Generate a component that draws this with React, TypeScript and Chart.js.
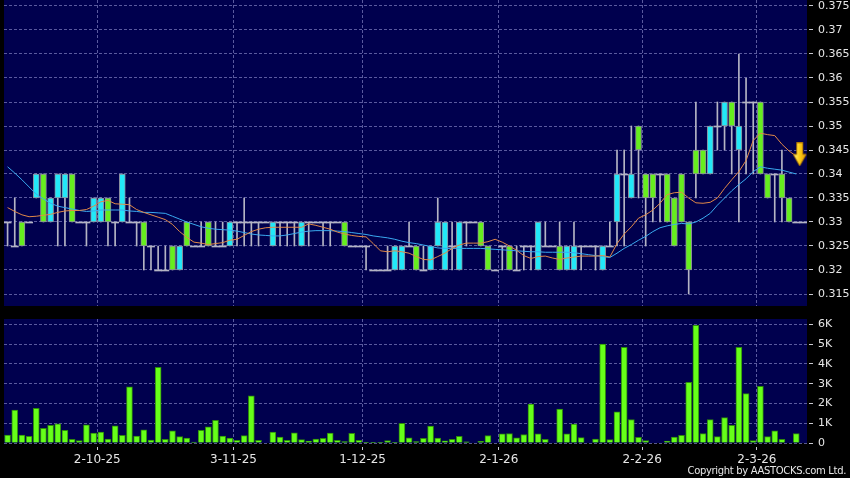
import { useEffect, useRef } from 'react';
import { Chart, registerables } from 'chart.js';

Chart.register(...registerables);

// ---------------- data ----------------
const tickDates = ['2-10-25', '3-11-25', '1-12-25', '2-1-26', '2-2-26', '2-3-26'];
const tickBars = [13, 32, 50, 69, 89, 105];

const opens = [
  0.33, 0.325, 0.33, 0.33, 0.335, 0.34, 0.33, 0.335, 0.335, 0.34,
  0.33, 0.33, 0.33, 0.33, 0.335, 0.33, 0.33, 0.33, 0.33, 0.33,
  0.325, 0.32, 0.32, 0.325, 0.32, 0.33, 0.325, 0.325, 0.33, 0.325,
  0.325, 0.325, 0.33, 0.33, 0.33, 0.33, 0.33, 0.325, 0.33, 0.33,
  0.33, 0.325, 0.33, 0.33, 0.33, 0.33, 0.33, 0.33, 0.325, 0.325,
  0.325, 0.32, 0.32, 0.32, 0.32, 0.32, 0.325, 0.325, 0.32, 0.32,
  0.325, 0.32, 0.325, 0.32, 0.33, 0.33, 0.33, 0.325, 0.32, 0.325,
  0.325, 0.32, 0.325, 0.325, 0.32, 0.325, 0.325, 0.325, 0.32, 0.32,
  0.325, 0.325, 0.325, 0.32, 0.325, 0.33, 0.34, 0.335, 0.35, 0.34,
  0.34, 0.34, 0.34, 0.335, 0.34, 0.33, 0.345, 0.345, 0.34, 0.35,
  0.35, 0.355, 0.345, 0.355, 0.355, 0.355, 0.34, 0.34, 0.34, 0.335,
  0.33, 0.33,
];
const highs = [
  0.33, 0.335, 0.33, 0.33, 0.34, 0.34, 0.335, 0.34, 0.34, 0.34,
  0.33, 0.33, 0.335, 0.335, 0.335, 0.33, 0.34, 0.335, 0.33, 0.33,
  0.325, 0.325, 0.325, 0.325, 0.325, 0.33, 0.325, 0.33, 0.33, 0.33,
  0.33, 0.33, 0.33, 0.335, 0.33, 0.33, 0.33, 0.33, 0.33, 0.33,
  0.33, 0.33, 0.33, 0.33, 0.33, 0.33, 0.33, 0.33, 0.325, 0.325,
  0.325, 0.32, 0.32, 0.325, 0.325, 0.325, 0.33, 0.325, 0.325, 0.325,
  0.335, 0.33, 0.33, 0.33, 0.33, 0.33, 0.33, 0.325, 0.32, 0.325,
  0.325, 0.325, 0.325, 0.325, 0.33, 0.33, 0.325, 0.33, 0.325, 0.33,
  0.325, 0.325, 0.325, 0.325, 0.33, 0.345, 0.345, 0.35, 0.35, 0.34,
  0.34, 0.34, 0.34, 0.335, 0.34, 0.33, 0.355, 0.345, 0.35, 0.355,
  0.355, 0.355, 0.365, 0.36, 0.355, 0.355, 0.34, 0.34, 0.345, 0.335,
  0.33, 0.33,
];
const lows = [
  0.325, 0.325, 0.325, 0.33, 0.335, 0.33, 0.33, 0.325, 0.325, 0.33,
  0.33, 0.325, 0.33, 0.33, 0.325, 0.325, 0.33, 0.33, 0.325, 0.32,
  0.32, 0.32, 0.32, 0.32, 0.32, 0.325, 0.325, 0.325, 0.325, 0.325,
  0.325, 0.325, 0.325, 0.325, 0.325, 0.325, 0.33, 0.325, 0.325, 0.325,
  0.325, 0.325, 0.325, 0.33, 0.325, 0.325, 0.33, 0.325, 0.325, 0.325,
  0.32, 0.32, 0.32, 0.32, 0.32, 0.32, 0.325, 0.32, 0.32, 0.32,
  0.325, 0.32, 0.32, 0.32, 0.325, 0.33, 0.325, 0.32, 0.32, 0.32,
  0.32, 0.32, 0.32, 0.32, 0.32, 0.325, 0.325, 0.32, 0.32, 0.32,
  0.32, 0.325, 0.32, 0.32, 0.325, 0.325, 0.325, 0.335, 0.335, 0.325,
  0.33, 0.33, 0.33, 0.325, 0.33, 0.315, 0.335, 0.34, 0.34, 0.345,
  0.345, 0.34, 0.33, 0.34, 0.34, 0.34, 0.335, 0.33, 0.33, 0.33,
  0.33, 0.33,
];
const closes = [
  0.33, 0.325, 0.325, 0.33, 0.34, 0.33, 0.335, 0.34, 0.34, 0.33,
  0.33, 0.33, 0.335, 0.335, 0.33, 0.33, 0.34, 0.33, 0.33, 0.325,
  0.325, 0.32, 0.32, 0.32, 0.325, 0.325, 0.325, 0.325, 0.325, 0.325,
  0.325, 0.33, 0.33, 0.33, 0.33, 0.33, 0.33, 0.33, 0.33, 0.33,
  0.33, 0.33, 0.33, 0.33, 0.33, 0.33, 0.33, 0.325, 0.325, 0.325,
  0.325, 0.32, 0.32, 0.32, 0.325, 0.325, 0.325, 0.32, 0.32, 0.325,
  0.33, 0.33, 0.325, 0.33, 0.33, 0.33, 0.325, 0.32, 0.32, 0.325,
  0.32, 0.32, 0.325, 0.325, 0.33, 0.325, 0.325, 0.32, 0.325, 0.325,
  0.325, 0.325, 0.325, 0.325, 0.325, 0.34, 0.34, 0.34, 0.345, 0.335,
  0.335, 0.34, 0.33, 0.325, 0.33, 0.32, 0.34, 0.34, 0.35, 0.35,
  0.355, 0.35, 0.35, 0.355, 0.355, 0.34, 0.335, 0.34, 0.335, 0.33,
  0.33, 0.33,
];
// volume in thousands
const volumeK = [
  0.40, 1.66, 0.40, 0.34, 1.75, 0.74, 0.89, 0.97, 0.64, 0.18,
  0.12, 0.92, 0.50, 0.55, 0.20, 0.87, 0.39, 2.84, 0.35, 0.66,
  0.15, 3.83, 0.18, 0.61, 0.32, 0.25, 0.05, 0.64, 0.82, 1.14,
  0.35, 0.25, 0.13, 0.37, 2.39, 0.13, 0, 0.55, 0.30, 0.13,
  0.52, 0.17, 0.10, 0.20, 0.24, 0.50, 0.13, 0.07, 0.49, 0.13,
  0.02, 0.02, 0.02, 0.12, 0.03, 1.00, 0.26, 0.07, 0.24, 0.85,
  0.25, 0.11, 0.18, 0.34, 0.06, 0, 0.08, 0.38, 0, 0.46,
  0.48, 0.26, 0.43, 1.97, 0.46, 0.19, 0, 1.72, 0.46, 0.96,
  0.27, 0, 0.20, 5.00, 0.17, 1.58, 4.84, 1.19, 0.29, 0.12,
  0, 0, 0.10, 0.30, 0.39, 3.07, 5.95, 0.47, 1.18, 0.32,
  1.28, 0.89, 4.84, 2.50, 0.12, 2.87, 0.32, 0.62, 0.18, 0,
  0.47, 0,
];
// short moving average (orange)
const maShort = [
  0.3330, 0.3322, 0.3315, 0.3311, 0.3312, 0.3314, 0.3316, 0.3320, 0.3323, 0.3324,
  0.3324, 0.3326, 0.3333, 0.3342, 0.3345, 0.3338, 0.3337, 0.3336, 0.3326, 0.3320,
  0.3315, 0.3310, 0.3305, 0.3295, 0.3280, 0.3268, 0.3258, 0.3256, 0.3253, 0.3255,
  0.3257, 0.3262, 0.3264, 0.3272, 0.3280, 0.3285, 0.3288, 0.3289, 0.3289, 0.3289,
  0.3289, 0.3289, 0.3296, 0.3293, 0.3289, 0.3285, 0.3279, 0.3275, 0.3272, 0.3270,
  0.3269, 0.3255, 0.3240, 0.3238, 0.3240, 0.3238, 0.3235, 0.3228, 0.3222, 0.3221,
  0.3228, 0.3235, 0.3245, 0.3252, 0.3256, 0.3256, 0.3256, 0.3259, 0.3264, 0.3258,
  0.3250, 0.3241, 0.3230, 0.3224, 0.3228, 0.3229, 0.3225, 0.3222, 0.3225, 0.3227,
  0.3229, 0.3229, 0.3229, 0.3230, 0.3227, 0.3255, 0.3275, 0.3290, 0.3308, 0.3315,
  0.3325, 0.3339, 0.3357, 0.3361, 0.3362, 0.3350, 0.3340, 0.3339, 0.3341, 0.3350,
  0.3370, 0.3388, 0.3405, 0.3428, 0.3470, 0.3485, 0.3482, 0.3480, 0.3462, 0.3448,
  0.3437, null,
];
// long moving average (blue)
const maLong = [
  0.3415, 0.3402, 0.3388, 0.3373, 0.3358, 0.3348, 0.3339, 0.3333, 0.3330, 0.3327,
  0.3324, 0.3322, 0.3323, 0.3325, 0.3325, 0.3325, 0.3325, 0.3323, 0.3322, 0.3320,
  0.3320, 0.3319, 0.3318, 0.3312, 0.3306, 0.3300, 0.3295, 0.3290, 0.3287, 0.3285,
  0.3284, 0.3283, 0.3281, 0.3278, 0.3275, 0.3273, 0.3272, 0.3271, 0.3271, 0.3273,
  0.3276, 0.3279, 0.3281, 0.3282, 0.3282, 0.3282, 0.3281, 0.3280, 0.3278, 0.3276,
  0.3274, 0.3271, 0.3269, 0.3267, 0.3264, 0.3260, 0.3257, 0.3255, 0.3252, 0.3249,
  0.3246, 0.3245, 0.3245, 0.3245, 0.3245, 0.3245, 0.3245, 0.3244, 0.3243, 0.3242,
  0.3241, 0.3240, 0.3239, 0.3238, 0.3238, 0.3237, 0.3237, 0.3237, 0.3237, 0.3236,
  0.3234, 0.3232, 0.3230, 0.3228, 0.3226, 0.3235, 0.3245, 0.3253, 0.3262, 0.3270,
  0.3280, 0.3288, 0.3292, 0.3295, 0.3297, 0.3296, 0.3300, 0.3308, 0.3318, 0.3335,
  0.3350, 0.3365, 0.3378, 0.3390, 0.3405, 0.3415, 0.3412, 0.3410, 0.3408, 0.3404,
  0.3400, null,
];
const signalBar = 110;
const signalPrice = 0.3441;

const priceMin = 0.3125;
const priceMax = 0.37625;
const priceStep = 0.005;
const volMax = 6.27;
const volStep = 1;

// ---------------- styles ----------------
const NAVY = '#00004e';
const GRID = 'rgba(120,120,185,0.75)';
const TICK_MARK = '#c8c8d0';
const LABEL = '#e6e6e6';
const GREEN = '#66ee1e';
const CYAN = '#22e8f8';
const CANDLE_EDGE = '#8c8c9c';
const WICK = '#b4b4c4';
const ORANGE = '#e08848';
const BLUE = '#3aaaf0';
const VOL_FILL = '#66ff19';
const VOL_EDGE = '#2e8a0c';
const FONT = 'DejaVu Sans';
const TOP_H = 306;
const BOT_H = 172;
const PLOT_LEFT = 4;
const AXIS_W = 43;
const DOJI_H = (priceMax - priceMin) / TOP_H;

const categories = opens.map((_, i) => {
  const k = tickBars.indexOf(i);
  return k >= 0 ? tickDates[k] : '';
});

const bodies = opens.map((o, i) => (o === closes[i] ? null : [Math.min(o, closes[i]), Math.max(o, closes[i])]));
const bodyColors = opens.map((o, i) => (closes[i] < o ? GREEN : CYAN));
const wicks = highs.map((h, i) => (h > lows[i] ? [lows[i], h] : null));
const dojis = opens.map((o, i) => (o === closes[i] ? [o - DOJI_H, o] : null));
const arrowData = categories.map((_, i) => (i === signalBar ? signalPrice : null));

const gridAtTicks = (ctx: any) => (tickBars.includes(ctx.index) ? GRID : 'rgba(0,0,0,0)');
const tickAtTicks = (ctx: any) => (tickBars.includes(ctx.index) ? TICK_MARK : 'rgba(0,0,0,0)');

const bgPlugin = {
  id: 'navyBg',
  beforeDraw(chart: any) {
    const { ctx, chartArea: a } = chart;
    ctx.save();
    ctx.fillStyle = NAVY;
    ctx.fillRect(a.left, a.top, a.right - a.left, a.bottom - a.top);
    ctx.restore();
  },
};

function makeArrow(): HTMLCanvasElement {
  const c = document.createElement('canvas');
  c.width = 22;
  c.height = 24;
  const g = c.getContext('2d')!;
  const grad = g.createLinearGradient(8, 0, 21, 0);
  grad.addColorStop(0, '#fff488');
  grad.addColorStop(0.45, '#ffd21a');
  grad.addColorStop(1, '#e09600');
  g.beginPath();
  g.moveTo(11.5, 0.5);
  g.lineTo(17.5, 0.5);
  g.lineTo(17.5, 12);
  g.lineTo(21, 12);
  g.lineTo(14.5, 23.5);
  g.lineTo(8, 12);
  g.lineTo(11.5, 12);
  g.closePath();
  g.fillStyle = grad;
  g.fill();
  g.strokeStyle = '#b07800';
  g.lineWidth = 1;
  g.stroke();
  return c;
}

const fitY = (s: any) => {
  s.width = AXIS_W;
  s.paddingTop = 0;
  s.paddingBottom = 0;
};

export default function App() {
  const topRef = useRef<HTMLCanvasElement>(null);
  const botRef = useRef<HTMLCanvasElement>(null);

  useEffect(() => {
    document.body.style.margin = '0';
    document.body.style.background = '#000';
    const arrow = makeArrow();

    const top = new Chart(topRef.current as HTMLCanvasElement, {
      type: 'bar',
      data: {
        labels: categories,
        datasets: [
          { type: 'line', data: arrowData, pointStyle: arrow, pointRadius: 6, showLine: false, order: 0 } as any,
          { type: 'line', data: maShort, borderColor: ORANGE, borderWidth: 1, pointRadius: 0, tension: 0, order: 1 } as any,
          { type: 'line', data: maLong, borderColor: BLUE, borderWidth: 1, pointRadius: 0, tension: 0, order: 1 } as any,
          { data: bodies, backgroundColor: bodyColors, borderColor: CANDLE_EDGE, borderWidth: 1, borderSkipped: false, barThickness: 6, grouped: false, order: 2 } as any,
          { data: dojis, backgroundColor: WICK, borderWidth: 0, categoryPercentage: 1, barPercentage: 1, grouped: false, order: 3 } as any,
          { data: wicks, backgroundColor: WICK, borderWidth: 0, barThickness: 1, grouped: false, order: 4 } as any,
        ],
      },
      options: {
        responsive: false,
        animation: false,
        events: [],
        layout: { autoPadding: false, padding: { left: PLOT_LEFT, right: 0, top: 0, bottom: 0 } },
        plugins: { legend: { display: false }, tooltip: { enabled: false } },
        scales: {
          x: {
            type: 'category',
            offset: true,
            grid: { offset: true, color: gridAtTicks, drawTicks: false, lineWidth: 1 },
            border: { display: false, dash: [3, 2] },
            ticks: { display: false, autoSkip: false },
            afterFit: (s: any) => { s.height = 0; s.paddingLeft = 0; s.paddingRight = 0; },
          },
          y: {
            type: 'linear',
            position: 'right',
            min: priceMin,
            max: priceMax,
            ticks: {
              stepSize: priceStep,
              includeBounds: false,
              color: LABEL,
              padding: 3,
              font: { family: FONT, size: 11 },
              callback: (v: any) => String(parseFloat(Number(v).toFixed(3))),
            },
            grid: { color: GRID, tickColor: TICK_MARK, tickLength: 8, tickBorderDash: [0, 2, 4, 2], lineWidth: 1 },
            border: { display: false, dash: [3, 2] },
            afterFit: fitY,
          },
        },
      } as any,
      plugins: [bgPlugin],
    });

    const bot = new Chart(botRef.current as HTMLCanvasElement, {
      type: 'bar',
      data: {
        labels: categories,
        datasets: [
          { data: volumeK, backgroundColor: VOL_FILL, borderColor: VOL_EDGE, borderWidth: 1, borderSkipped: 'start', barThickness: 6, grouped: false } as any,
        ],
      },
      options: {
        responsive: false,
        animation: false,
        events: [],
        layout: { autoPadding: false, padding: { left: PLOT_LEFT, right: 0, top: 13, bottom: 0 } },
        plugins: { legend: { display: false }, tooltip: { enabled: false } },
        scales: {
          x: {
            type: 'category',
            offset: true,
            grid: { offset: true, color: gridAtTicks, tickColor: tickAtTicks, tickLength: 7, tickBorderDash: [0, 4, 3, 10], lineWidth: 1 },
            border: { display: false, dash: [3, 2] },
            ticks: { autoSkip: false, maxRotation: 0, color: LABEL, padding: 3, labelOffset: -3.5, font: { family: FONT, size: 12 } },
            afterFit: (s: any) => { s.height = 35; s.paddingLeft = 0; s.paddingRight = 0; },
          },
          y: {
            type: 'linear',
            position: 'right',
            min: 0,
            max: volMax,
            ticks: {
              stepSize: volStep,
              includeBounds: false,
              color: LABEL,
              padding: 3,
              font: { family: FONT, size: 11 },
              callback: (v: any) => (Number(v) === 0 ? '0' : `${v}K`),
            },
            grid: { color: GRID, tickColor: TICK_MARK, tickLength: 8, tickBorderDash: [0, 2, 4, 2], lineWidth: 1 },
            border: { display: false, dash: [3, 2] },
            afterFit: fitY,
          },
        },
      } as any,
      plugins: [bgPlugin],
    });

    return () => {
      top.destroy();
      bot.destroy();
    };
  }, []);

  return (
    <div style={{ position: 'fixed', left: 0, top: 0, width: 850, height: 478, background: '#000', overflow: 'hidden' }}>
      <canvas ref={topRef} width={850} height={TOP_H} style={{ position: 'absolute', left: 0, top: 0 }} />
      <canvas ref={botRef} width={850} height={BOT_H} style={{ position: 'absolute', left: 0, top: TOP_H }} />
      <div
        style={{
          position: 'absolute',
          right: 4,
          top: 465,
          fontFamily: '"DejaVu Sans", sans-serif',
          fontSize: 10,
          letterSpacing: '-0.33px',
          color: LABEL,
          whiteSpace: 'nowrap',
        }}
      >
        Copyright by AASTOCKS.com Ltd.
      </div>
    </div>
  );
}
